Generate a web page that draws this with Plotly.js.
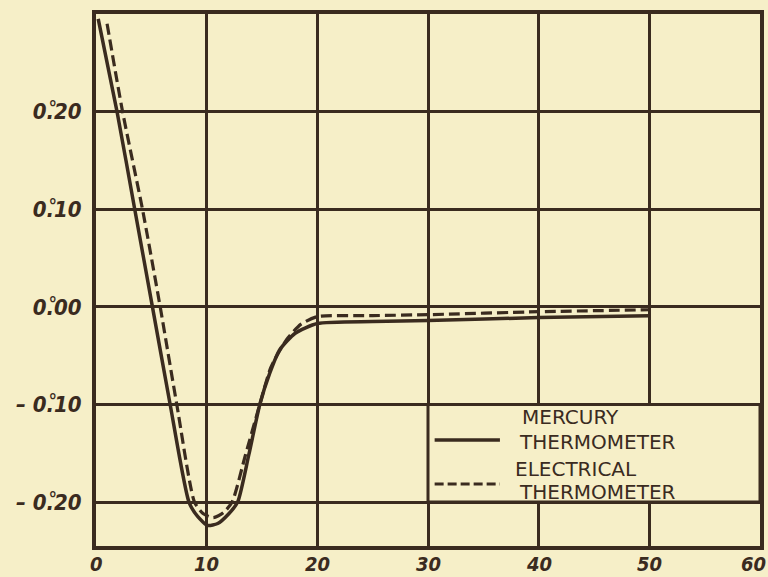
<!DOCTYPE html>
<html>
<head>
<meta charset="utf-8">
<script src="https://cdn.plot.ly/plotly-3.0.1.min.js"></script>
<style>html,body{margin:0;padding:0;background:#f6efc8;}</style>
</head>
<body>
<div id="chart" style="width:768px;height:577px;"></div>
<script>
// Time (minutes) and temperature deviation (degrees)
const mercuryX = [0.2, 1.9, 3.5, 5.1, 6.7, 8.4, 9.2, 10.1, 11.0, 12.0, 12.8, 13.8, 14.8, 15.7, 16.6, 18.0, 20.0, 25.0, 30.0, 40.0, 50.0];
const mercuryY = [0.295, 0.20, 0.10, 0.00, -0.10, -0.20, -0.215, -0.224, -0.222, -0.212, -0.20, -0.152, -0.10, -0.068, -0.044, -0.027, -0.017, -0.015, -0.014, -0.011, -0.009];

const electricalX = [1.0, 2.4, 4.2, 5.8, 7.3, 8.9, 9.7, 10.6, 11.5, 12.3, 13.5, 14.8, 15.8, 17.2, 18.5, 20.0, 25.0, 30.0, 40.0, 50.0];
const electricalY = [0.29, 0.20, 0.10, 0.00, -0.10, -0.20, -0.212, -0.216, -0.211, -0.20, -0.152, -0.10, -0.062, -0.034, -0.018, -0.010, -0.009, -0.008, -0.005, -0.003];

const xTickVals = [0, 10, 20, 30, 40, 50, 60];
const xTickText = ['0', '10', '20', '30', '40', '50', '60'];
const yTickVals = [-0.2, -0.1, 0.0, 0.1, 0.2];
const yTickText = ['\u2013 0.\u030A20', '\u2013 0.\u030A10', '0.\u030A00', '0.\u030A10', '0.\u030A20'];

const seriesNames = ['MERCURY<br>THERMOMETER', 'ELECTRICAL<br>THERMOMETER'];

const ink = '#3a2b1f';
const bg = '#f6efc8';
const tickFont = {family: 'DejaVu Sans Condensed, Liberation Sans, sans-serif', size: 22, color: ink, style: 'italic', weight: 'bold'};
const xTickFont = {family: 'DejaVu Sans Condensed, Liberation Sans, sans-serif', size: 20, color: ink, style: 'italic', weight: 'bold'};
const legendFont = {family: 'DejaVu Sans, sans-serif', size: 20, color: ink};

const traces = [
  {x: mercuryX, y: mercuryY, mode: 'lines', line: {color: ink, width: 3.5, shape: 'spline', smoothing: 0.6}, showlegend: false, name: seriesNames[0]},
  {x: electricalX, y: electricalY, mode: 'lines', line: {color: ink, width: 3.2, dash: '11px,5px', shape: 'spline', smoothing: 0.6}, showlegend: false, name: seriesNames[1]},
  // legend samples
  {x: [30.6, 36.5], y: [-0.1365, -0.1365], mode: 'lines', line: {color: ink, width: 3.5}, showlegend: false, hoverinfo: 'skip'},
  {x: [30.6, 36.5], y: [-0.1815, -0.1815], mode: 'lines', line: {color: ink, width: 3.2, dash: '9px,4px'}, showlegend: false, hoverinfo: 'skip'}
];

const xLabelAnnotations = xTickVals.map((v, i) => ({
  x: v, xref: 'x', y: 0, yref: 'paper', yanchor: 'top', xanchor: 'center',
  yshift: -4, xshift: (i === xTickVals.length - 1) ? -7 : 0,
  showarrow: false, text: xTickText[i], font: xTickFont
}));

const layout = {
  width: 768, height: 577,
  margin: {l: 96, r: 8, t: 14, b: 31},
  paper_bgcolor: bg, plot_bgcolor: bg,
  xaxis: {
    range: [0, 60], tickvals: xTickVals, ticktext: xTickText, showticklabels: false,
    showgrid: true, gridcolor: ink, gridwidth: 3,
    showline: true, linecolor: ink, linewidth: 4, mirror: true,
    zeroline: false, ticks: ''
  },
  yaxis: {
    range: [-0.245, 0.30], tickvals: yTickVals, ticktext: yTickText,
    showgrid: true, gridcolor: ink, gridwidth: 3,
    showline: true, linecolor: ink, linewidth: 4, mirror: true,
    zeroline: false, ticks: '', tickfont: tickFont, ticklabelstandoff: 6
  },
  shapes: [
    {type: 'rect', xref: 'x', yref: 'y', x0: 30, x1: 60, y0: -0.2, y1: -0.1,
     fillcolor: bg, line: {color: ink, width: 3}, layer: 'between'}
  ],
  annotations: xLabelAnnotations.concat([
    {x: 38.3, y: -0.099, xref: 'x', yref: 'y', xanchor: 'left', yanchor: 'top', showarrow: false, align: 'left',
     text: 'MERCURY', font: legendFont},
    {x: 38.0, y: -0.124, xref: 'x', yref: 'y', xanchor: 'left', yanchor: 'top', showarrow: false, align: 'left',
     text: 'THERMOMETER', font: legendFont},
    {x: 37.7, y: -0.152, xref: 'x', yref: 'y', xanchor: 'left', yanchor: 'top', showarrow: false, align: 'left',
     text: 'ELECTRICAL', font: legendFont},
    {x: 38.0, y: -0.175, xref: 'x', yref: 'y', xanchor: 'left', yanchor: 'top', showarrow: false, align: 'left',
     text: 'THERMOMETER', font: legendFont}
  ])
};

Plotly.newPlot('chart', traces, layout, {displayModeBar: false, staticPlot: true});
</script>
</body>
</html>
